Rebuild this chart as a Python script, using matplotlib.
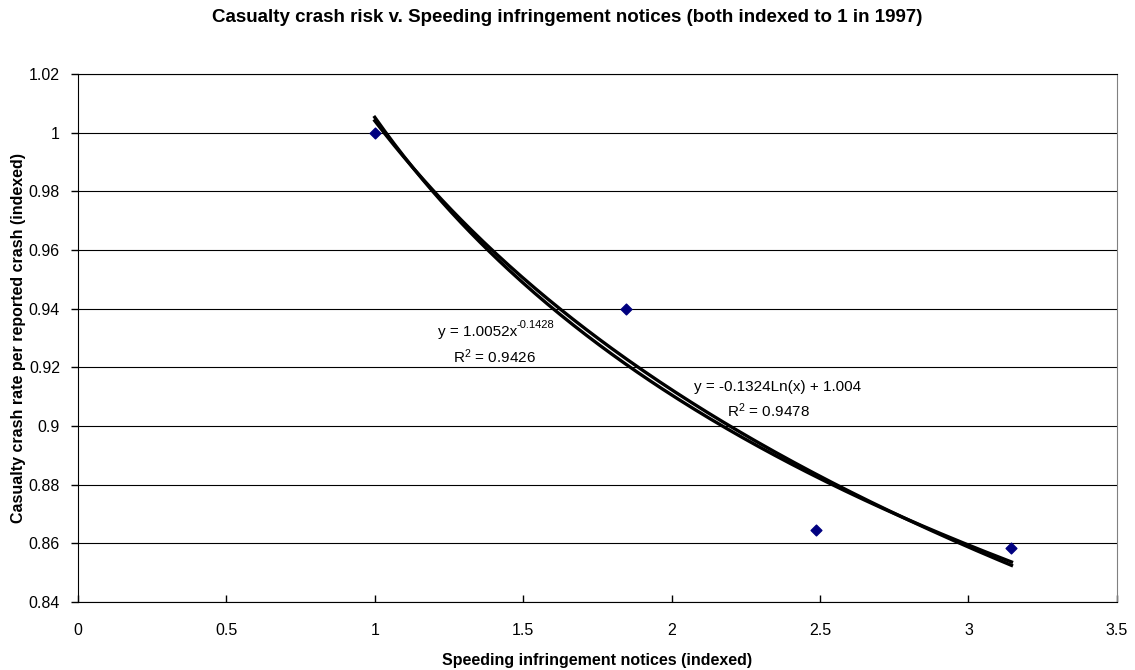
import numpy as np
import matplotlib
matplotlib.use("Agg")
import matplotlib.pyplot as plt

plt.rcParams['font.family'] = ['Liberation Sans', 'DejaVu Sans']
plt.rcParams['mathtext.fontset'] = 'custom'
plt.rcParams['mathtext.rm'] = 'Liberation Sans'
plt.rcParams['mathtext.it'] = 'Liberation Sans:italic'
plt.rcParams['mathtext.bf'] = 'Liberation Sans:bold'

# speeding notices (indexed) vs casualty crash rate (indexed)
notices = [1.0, 1.848, 2.485, 3.145]
crash_rate = [1.0, 0.94, 0.8645, 0.8585]

x = np.array(notices)
y = np.array(crash_rate)

# trendlines fitted to the points (power and log, as Excel does)
b_pow, a_pow = np.polyfit(np.log(x), np.log(y), 1)
b_log, a_log = np.polyfit(np.log(x), y, 1)
xs = np.linspace(x.min(), x.max(), 200)

fig = plt.figure(figsize=(11.35, 6.7), dpi=100)
ax = fig.add_axes([0.0687, 0.1015, 0.9153, 0.7881])

ax.plot(xs, np.exp(a_pow) * xs ** b_pow, color='black', lw=2.4, zorder=3)
ax.plot(xs, a_log + b_log * np.log(xs), color='black', lw=2.4, zorder=3)
ax.scatter(x, y, marker='D', s=30, color='#000080', zorder=4)

ax.set_xlim(0, 3.5)
ax.set_ylim(0.84, 1.02)
ax.set_xticks(np.arange(0, 3.51, 0.5))
ax.set_xticklabels(['0', '0.5', '1', '1.5', '2', '2.5', '3', '3.5'])
ax.set_yticks(np.arange(0.84, 1.021, 0.02))
ax.set_yticklabels(['0.84', '0.86', '0.88', '0.9', '0.92', '0.94', '0.96', '0.98', '1', '1.02'])
ax.yaxis.grid(True, color='black', lw=0.8)
ax.set_axisbelow(True)
ax.tick_params(labelsize=11.5, length=5, width=1, color='black', pad=8)
ax.tick_params(axis='x', direction='in', pad=15)
ax.tick_params(axis='y', direction='out')

for side in ['left', 'bottom']:
    ax.spines[side].set_color('black')
ax.spines['top'].set_color('black')
ax.spines['top'].set_linewidth(0.8)
ax.spines['right'].set_color('#808080')

# trendline labels, placed like Excel's
t1 = ax.text(1.479, 0.9321, 'y = 1.0052x', fontsize=11, ha='right', va='center')
ax.annotate('-0.1428', xy=(1.0, 0.62), xycoords=t1, fontsize=8, ha='left', va='bottom')
ax.text(1.4015, 0.9235, 'R$^{2}$ = 0.9426', fontsize=11, ha='center', va='center')
ax.text(2.358, 0.9133, 'y = -0.1324Ln(x) + 1.004', fontsize=11, ha='center', va='center')
ax.text(2.325, 0.9051, 'R$^{2}$ = 0.9478', fontsize=11, ha='center', va='center')

ax.set_xlabel('Speeding infringement notices (indexed)', fontsize=11.5, fontweight='bold', labelpad=11)
ax.set_ylabel('Casualty crash rate per reported crash (indexed)', fontsize=11.5, fontweight='bold', labelpad=2)
fig.text(0.5, 0.974, 'Casualty crash risk v. Speeding infringement notices (both indexed to 1 in 1997)',
         ha='center', va='center', fontsize=13.5, fontweight='bold')

fig.savefig('out.png', dpi=100)
